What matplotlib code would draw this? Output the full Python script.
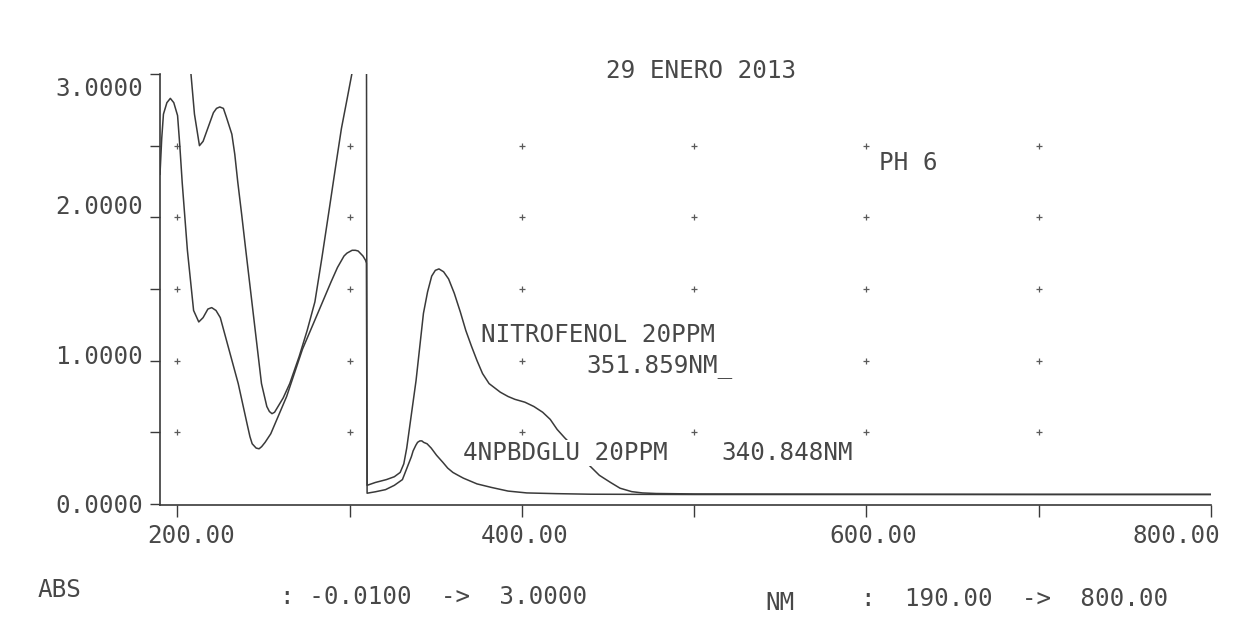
import numpy as np
import matplotlib
matplotlib.use("Agg")
import matplotlib.pyplot as plt
from matplotlib.transforms import ScaledTranslation

# espectros UV-Vis, 29 enero 2013, pH 6
# la parte de 190-310 nm sale en otra escala, por eso el salto vertical en 310 nm
wl_nitro = [190, 200, 205, 207.9, 210, 212.9, 215, 218, 221, 222.8, 224.7, 226.8,
            228.5, 231.7, 233.4, 235.1, 237.4, 239.7, 244.3, 248.9, 252, 253.5, 255,
            256.5, 258, 261.5, 265.3, 270.8, 275.4, 279.9, 284, 288.4, 292, 295.3,
            298.5, 301.5, 305, 309.8,
            310.2, 315, 321.4, 326, 329.4, 331.5, 333.2, 338.6, 342.9, 345.3, 347.7,
            349.8, 351.9, 354.6, 357.5, 360.8, 364.3, 367.5, 370.8, 374, 377.2, 381,
            387.5, 392, 396, 401.8, 407, 412.1, 416.5, 420.5, 425, 430, 434.5, 439.1,
            445, 451.5, 457, 463.8, 470, 478, 500, 600, 700, 800]
abs_nitro = [3.6, 3.5, 3.3, 3.01, 2.72, 2.50, 2.53, 2.63, 2.73, 2.76, 2.77, 2.76,
             2.70, 2.58, 2.44, 2.25, 2.02, 1.78, 1.31, 0.84, 0.68, 0.645, 0.63,
             0.64, 0.67, 0.74, 0.84, 1.03, 1.21, 1.41, 1.72, 2.07, 2.36, 2.62,
             2.82, 3.01, 3.3, 3.5,
             0.13, 0.15, 0.17, 0.19, 0.22, 0.28, 0.39, 0.86, 1.33, 1.48, 1.59,
             1.63, 1.64, 1.62, 1.57, 1.47, 1.34, 1.21, 1.10, 1.00, 0.91, 0.84,
             0.78, 0.75, 0.73, 0.71, 0.68, 0.64, 0.59, 0.52, 0.46, 0.40, 0.33, 0.27,
             0.20, 0.15, 0.11, 0.086, 0.077, 0.073, 0.07, 0.068, 0.067, 0.067]

wl_4np = [190, 191, 192, 194, 196, 198, 200.2, 201.5, 202.9, 205.9, 209.5, 212.5,
          215, 217.8, 220, 222.5, 225, 230.2, 235.4, 240.7, 242.2, 243.5, 245.8,
          247.5, 249, 251, 254.3, 263.5, 272.7, 281.9, 289.3, 293, 296.8, 298.5,
          301.5, 303.4, 305, 307.8, 309.3, 309.8,
          310.2, 315, 320.9, 326, 330.7, 335.9, 336.9, 338.5, 339.5, 340.8, 342,
          343, 345, 347.4, 350.5, 354.2, 357, 360, 363, 366.1, 374, 382.5, 392,
          402.9, 420, 440, 500, 600, 700, 800]
abs_4np = [2.30, 2.55, 2.72, 2.80, 2.83, 2.80, 2.71, 2.50, 2.24, 1.77, 1.35, 1.27,
           1.30, 1.36, 1.37, 1.35, 1.30, 1.07, 0.84, 0.55, 0.47, 0.42, 0.39,
           0.385, 0.40, 0.43, 0.49, 0.75, 1.08, 1.34, 1.55, 1.65, 1.73, 1.75,
           1.77, 1.77, 1.765, 1.73, 1.70, 1.68,
           0.075, 0.085, 0.10, 0.13, 0.17, 0.33, 0.37, 0.41, 0.43, 0.44, 0.44,
           0.43, 0.42, 0.39, 0.34, 0.29, 0.25, 0.22, 0.20, 0.18, 0.14, 0.115, 0.09,
           0.077, 0.072, 0.068, 0.066, 0.066, 0.066, 0.066]

grid_x = [200, 300, 400, 500, 600, 700]
grid_y = [0.5, 1.0, 1.5, 2.0, 2.5]

xticks = [200, 300, 400, 500, 600, 700, 800]
xticklabels = ['200.00', '', '400.00', '', '600.00', '', '800.00']
yticks = [0, 0.5, 1.0, 1.5, 2.0, 2.5, 3.0]
yticklabels = ['0.0000', '', '1.0000', '', '2.0000', '', '3.0000']

W, H = 1239, 644
LINE = '#3a3a3a'
TXT = '#484848'
FS = 17.5

plt.rcParams['font.family'] = 'DejaVu Sans Mono'

fig = plt.figure(figsize=(W / 100, H / 100), dpi=100)
fig.patch.set_facecolor('white')
ax = fig.add_axes([160 / W, (H - 505.4) / H, 1051 / W, (505.4 - 74) / H])

ax.plot(wl_nitro, abs_nitro, color=LINE, lw=1.1)
ax.plot(wl_4np, abs_4np, color=LINE, lw=1.1)

# cruces de la reticula
gx, gy = np.meshgrid(grid_x, grid_y)
ax.plot(gx.ravel(), gy.ravel(), '+', ms=5, mew=0.9, color='#5a5a5a', zorder=1)

ax.set_xlim(190, 800)
ax.set_ylim(-0.01, 3.0)
for s in ['top', 'right']:
    ax.spines[s].set_visible(False)
for s in ['left', 'bottom']:
    ax.spines[s].set_color(LINE)
    ax.spines[s].set_linewidth(1.2)

ax.set_xticks(xticks)
ax.set_xticklabels(xticklabels)
ax.set_yticks(yticks)
ax.set_yticklabels(yticklabels)
ax.tick_params(axis='x', direction='out', length=8.6, width=1.0, pad=5,
               color=LINE, labelcolor=TXT, labelsize=FS)
ax.tick_params(axis='y', direction='out', length=7.2, width=1.0, pad=5,
               color=LINE, labelcolor=TXT, labelsize=FS)

# pequeños desplazamientos de las etiquetas como en la impresion
x_shift = {0: 0.14, 2: 0.03, 4: 0.07, 6: -0.35}
for i, lab in enumerate(ax.get_xticklabels()):
    if i in x_shift:
        lab.set_transform(lab.get_transform() + ScaledTranslation(x_shift[i], 0, fig.dpi_scale_trans))
y_shift = {2: 0.06, 4: 0.13, 6: -0.13}
for i, lab in enumerate(ax.get_yticklabels()):
    if i in y_shift:
        lab.set_transform(lab.get_transform() + ScaledTranslation(0, y_shift[i], fig.dpi_scale_trans))


def ptext(x, y, s, box=False):
    kw = dict(ha='left', va='baseline', fontsize=FS, color=TXT)
    if box:
        kw['bbox'] = dict(facecolor='white', edgecolor='none', pad=1)
    fig.text(x / W, 1 - y / H, s, **kw)


ptext(606, 78, '29 ENERO 2013')
ptext(879, 170, 'PH 6')
ptext(481, 342, 'NITROFENOL 20PPM', box=True)
ptext(586, 372, '351.859NM_', box=True)
ptext(463, 460, '4NPBDGLU 20PPM', box=True)
ptext(721, 460, '340.848NM', box=True)

ptext(38, 597, 'ABS')
ptext(280, 604, ': -0.0100  ->  3.0000')
ptext(765, 610, 'NM')
ptext(861, 606, ':  190.00  ->  800.00')

plt.savefig('out.png', dpi=100, facecolor='white')
